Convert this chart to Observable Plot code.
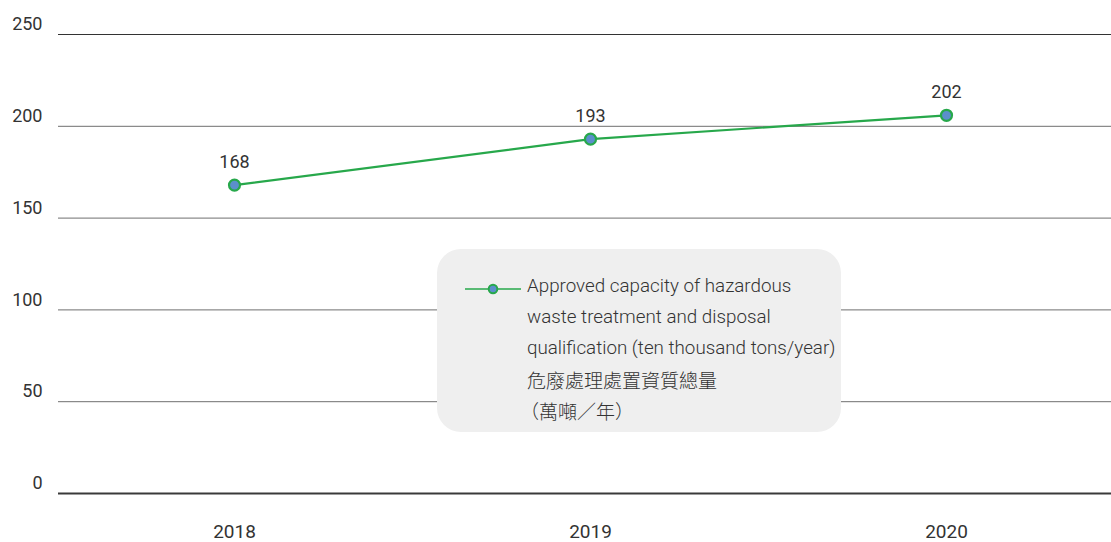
<!DOCTYPE html>
<html>
<head>
<meta charset="utf-8">
<script src="https://cdn.jsdelivr.net/npm/d3@7"></script>
<script src="https://cdn.jsdelivr.net/npm/@observablehq/plot@0.6"></script>
<style>
  html, body { margin: 0; padding: 0; background: #fff; }
  #wrap { position: relative; width: 1111px; height: 542px; overflow: hidden; font-family: Roboto, "Noto Sans", sans-serif; }
  #legend {
    position: absolute; left: 437px; top: 249px; width: 404px; height: 183px;
    background: #efefef; border-radius: 24px; box-sizing: border-box;
  }
  #legend svg { position: absolute; left: 28px; top: 33px; }
  #legend .txt {
    position: absolute; left: 90px; top: 22px; font-size: 18.8px; line-height: 31px;
    color: #333; font-weight: 300; white-space: nowrap;
  }
  #legend .zh { font-family: "Noto Sans CJK TC", sans-serif; font-weight: 300; font-size: 19px; }
  #legend .zh.paren { margin-left: -7px; }
</style>
</head>
<body>
<div id="wrap"></div>
<script>
const years = ["2018", "2019", "2020"];
const capacity = [168, 193, 206];
const labels = ["168", "193", "202"];
const yTicks = [0, 50, 100, 150, 200, 250];
const legendLines = ["Approved capacity of hazardous", "waste treatment and disposal", "qualification (ten thousand tons/year)"];
const legendZh = ["危廢處理處置資質總量", "（萬噸／年）"];

const data = years.map((y, i) => ({year: y, value: capacity[i], label: labels[i]}));
const green = "#27a84b";
const blue = "#5b8fcb";

const chart = Plot.plot({
  width: 1111,
  height: 542,
  marginLeft: 58,
  marginRight: 0,
  marginTop: 34,
  marginBottom: 49,
  style: {fontFamily: "Roboto, 'Noto Sans', sans-serif", color: "#333", background: "transparent"},
  x: {type: "point", domain: years, range: [234, 946], padding: 0},
  y: {domain: [0, 250]},
  marks: [
    Plot.ruleY([50, 100, 150, 200], {stroke: "#6f6f6f", strokeWidth: 1}),
    Plot.ruleY([250], {stroke: "#333", strokeWidth: 1}),
    Plot.ruleY([0], {stroke: "#3a3a3a", strokeWidth: 2}),
    Plot.axisY(yTicks, {tickSize: 0, tickPadding: 16, dy: -10, fontSize: 18, fill: "#333", label: null}),
    Plot.axisX({tickSize: 0, tickPadding: 31, fontSize: 19, fill: "#333", label: null}),
    Plot.line(data, {x: "year", y: "value", stroke: green, strokeWidth: 2.2}),
    Plot.dot(data, {x: "year", y: "value", r: 5.5, fill: blue, stroke: green, strokeWidth: 2.2}),
    Plot.text(data, {x: "year", y: "value", text: "label", dy: -23, fontSize: 18, fill: "#333"})
  ]
});
const wrap = document.getElementById("wrap");
wrap.appendChild(chart);
chart.style.position = "absolute";
chart.style.left = "0";
chart.style.top = "0";

const legend = document.createElement("div");
legend.id = "legend";
legend.innerHTML = `
<svg width="58" height="14" viewBox="0 0 58 14">
  <line x1="0" y1="7" x2="56" y2="7" stroke="${green}" stroke-width="1.3"/>
  <circle cx="28" cy="7" r="4.3" fill="${blue}" stroke="${green}" stroke-width="2"/>
</svg>
<div class="txt">${legendLines.map(t => `<div>${t}</div>`).join("")}${legendZh.map((t, i) => `<div class="zh${i === 1 ? " paren" : ""}">${t}</div>`).join("")}</div>`;
wrap.appendChild(legend);
</script>
</body>
</html>
